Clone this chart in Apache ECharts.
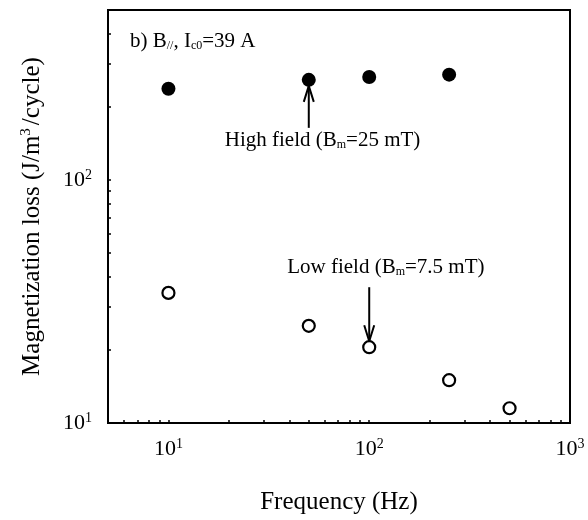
<!DOCTYPE html>
<html>
<head>
<meta charset="utf-8">
<script src="https://cdn.jsdelivr.net/npm/echarts@6/dist/echarts.min.js"></script>
<style>
  html, body { margin: 0; padding: 0; background: #fff; }
  #container { width: 588px; height: 520px; }
</style>
</head>
<body>
<div id="container"></div>
<script>
var freqHigh = [10, 50, 100, 250];
var lossHigh = [237, 258, 265, 271];
var freqLow = [10, 50, 100, 250, 500];
var lossLow = [34.3, 25.1, 20.5, 15.0, 11.5];

var xTickLabels = [10, 100, 1000];
var yTickLabels = [10, 100];
var xMinorTicks = [6, 7, 8, 9, 10, 20, 30, 40, 50, 60, 70, 80, 90, 100, 200, 300, 400, 500, 600, 700, 800, 900];
var yMinorTicks = [20, 30, 40, 50, 60, 70, 80, 90, 100, 200, 300, 400];

var font = 'Liberation Serif';

function powLabel(v) {
    var e = Math.round(Math.log10(v));
    return '{b|10}{e|' + e + '}';
}
var powRich = {
    b: { fontFamily: font, fontSize: 22, color: '#000' },
    e: { fontFamily: font, fontSize: 14, color: '#000', verticalAlign: 'top', padding: [0, 0, 10, 0] }
};

function pairs(xs, ys) {
    return xs.map(function (x, i) { return [x, ys[i]]; });
}

var myChart = echarts.init(document.getElementById('container'));

var option = {
    backgroundColor: '#fff',
    animation: false,
    grid: { left: 108, right: 18, top: 10, bottom: 97, show: true, borderColor: '#000', borderWidth: 2 },
    xAxis: {
        type: 'log',
        min: 5,
        max: 1000,
        name: 'Frequency (Hz)',
        nameLocation: 'middle',
        nameGap: 67,
        nameTextStyle: { fontFamily: font, fontSize: 25, color: '#000' },
        axisLine: { lineStyle: { color: '#000', width: 2 } },
        axisTick: { show: true, inside: true, length: 3, customValues: xMinorTicks, lineStyle: { color: '#000', width: 1.5 } },
        axisLabel: { customValues: xTickLabels, formatter: powLabel, rich: powRich, margin: 14 },
        splitLine: { show: false }
    },
    yAxis: {
        type: 'log',
        min: 10,
        max: 500,
        name: '{a|Magnetization loss (J/m}{s|3}{a|/cycle)}',
        nameLocation: 'middle',
        nameGap: 62,
        nameTextStyle: {
            fontFamily: font, fontSize: 25, color: '#000',
            rich: {
                a: { fontFamily: font, fontSize: 25, color: '#000' },
                s: { fontFamily: font, fontSize: 15, color: '#000', verticalAlign: 'top', padding: [0, 3, 12, 0] }
            }
        },
        axisLine: { lineStyle: { color: '#000', width: 2 } },
        axisTick: { show: true, inside: true, length: 3, customValues: yMinorTicks, lineStyle: { color: '#000', width: 1.5 } },
        axisLabel: { customValues: yTickLabels, formatter: powLabel, rich: powRich, margin: 16 },
        splitLine: { show: false }
    },
    series: [
        {
            name: 'High field',
            type: 'scatter',
            symbol: 'circle',
            symbolSize: 14,
            itemStyle: { color: '#000', opacity: 1 },
            data: pairs(freqHigh, lossHigh)
        },
        {
            name: 'Low field',
            type: 'scatter',
            symbol: 'circle',
            symbolSize: 12,
            itemStyle: { color: '#fff', borderColor: '#000', borderWidth: 2.2, opacity: 1 },
            data: pairs(freqLow, lossLow)
        }
    ]
};
myChart.setOption(option);

// annotations placed relative to the data points
var hi = myChart.convertToPixel({ gridIndex: 0 }, [freqHigh[1], lossHigh[1]]);
var lo = myChart.convertToPixel({ gridIndex: 0 }, [freqLow[2], lossLow[2]]);
var textRich = {
    a: { fontFamily: font, fontSize: 21, color: '#000' },
    s: { fontFamily: font, fontSize: 12, color: '#000', verticalAlign: 'bottom', padding: [9, 0, 0, 0] }
};

function arrow(x, y1, y2) {
    var d = y2 > y1 ? -1 : 1;
    return [
        { type: 'line', shape: { x1: x, y1: y1, x2: x, y2: y2 }, style: { stroke: '#000', lineWidth: 2 } },
        { type: 'polyline', shape: { points: [[x - 5, y2 + d * 16], [x, y2], [x + 5, y2 + d * 16]] }, style: { stroke: '#000', lineWidth: 2, fill: null } }
    ];
}

myChart.setOption({
    graphic: [
        {
            type: 'text', left: 130, top: 31,
            style: {
                text: '{a|b) B}{s|//}{a|, I}{s|c0}{a|=39 A}',
                rich: textRich
            }
        },
        {
            type: 'text', x: hi[0] - 84, y: hi[1] + 50,
            style: { text: '{a|High field (B}{s|m}{a|=25 mT)}', rich: textRich }
        },
        {
            type: 'text', x: lo[0] - 82, y: lo[1] - 90,
            style: { text: '{a|Low field (B}{s|m}{a|=7.5 mT)}', rich: textRich }
        }
    ].concat(arrow(hi[0], hi[1] + 48, hi[1] + 6)).concat(arrow(lo[0], lo[1] - 60, lo[1] - 6))
});
</script>
</body>
</html>
